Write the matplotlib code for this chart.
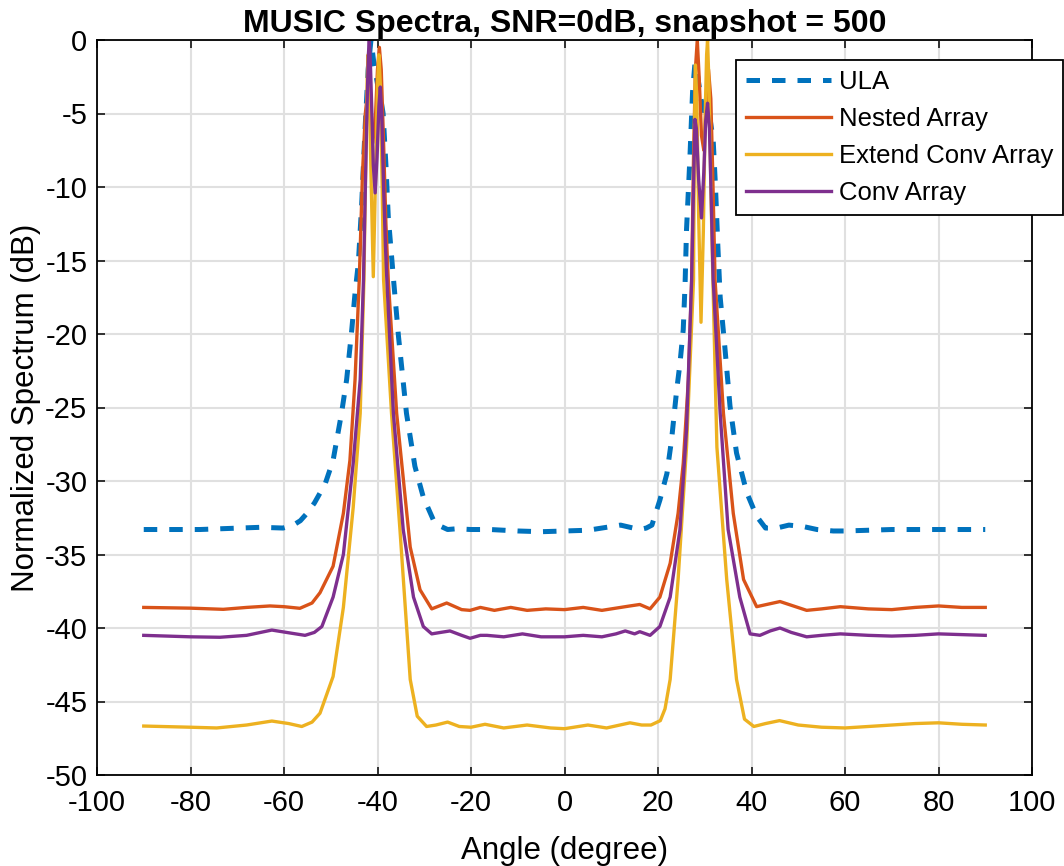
import matplotlib
matplotlib.use("Agg")
import matplotlib.pyplot as plt

plt.rcParams['font.family'] = ['Liberation Sans', 'DejaVu Sans']
plt.rcParams['axes.unicode_minus'] = False

title = "MUSIC Spectra, SNR=0dB, snapshot = 500"
xlabel = "Angle (degree)"
ylabel = "Normalized Spectrum (dB)"
labels = ["ULA", "Nested Array", "Extend Conv Array", "Conv Array"]
xticks = [-100, -80, -60, -40, -20, 0, 20, 40, 60, 80, 100]
yticks = [0, -5, -10, -15, -20, -25, -30, -35, -40, -45, -50]

ula_x = [-90, -78, -65, -60.2, -58, -56.5, -55.1, -53.5, -51.2, -49.5, -47.7, -46.6, -45.5, -44.8,
         -44.1, -43.4, -42.7, -42.0, -41.4, -40.8, -40.0, -39.3, -38.8, -38.2, -37.7, -36.6, -35.5,
         -33.8, -32.0, -30.2, -27.7, -25, -23.1, -20, -15.9, -10, -5, 0, 5, 8, 10, 12, 14, 16.1,
         17.5, 18.7, 20.4, 21.9, 22.9, 24.0, 24.7, 25.4, 25.8, 26.1, 26.8, 27.4, 27.9, 28.5, 29.2,
         29.7, 30.5, 31.2, 31.8, 32.3, 32.8, 33.3, 34.3, 35.4, 36.8, 39.0, 41.1, 43, 45.4, 48, 51.1,
         54, 57.5, 60, 65, 70, 80, 90]
ula_y = [-33.3, -33.3, -33.15, -33.2, -33.0, -32.7, -32.2, -31.5, -30.2, -28.6, -25.4, -23.1, -19.7, -17.2,
         -15.2, -11.3, -6.3, -2.0, 0.0, -1.5, -3.0, -4.0, -5.0, -8.5, -12.0, -16.2, -20.2,
         -25.4, -29.0, -31.1, -32.9, -33.3, -33.25, -33.3, -33.3, -33.4, -33.45, -33.4, -33.35, -33.2, -33.1, -33.0, -33.15, -33.3,
         -33.2, -33.0, -31.3, -29.5, -27.2, -23.8, -22.0, -19.7, -16.5, -12.9, -8.2, -3.5, -1.6, -2.5, -4.0,
         -4.8, -4.6, -5.5, -6.8, -10.0, -14.0, -17.5, -20.9, -24.9, -28.1, -30.8, -32.4, -33.2, -33.2, -33.0, -33.1,
         -33.3, -33.4, -33.4, -33.35, -33.3, -33.3, -33.3]

nested_x = [-90, -80, -73, -68, -63, -60, -56.6, -54, -52.3, -49.5, -47.3, -45.9, -44.8, -43.9, -43.2,
            -42.6, -42.1, -41.6, -41.0, -40.4, -40.0, -39.6, -39.2, -38.7, -38.2, -37.7, -35.9, -33.0,
            -30.9, -28.4, -25.2, -22, -20.2, -18, -15, -11.5, -8, -4, 0, 4, 8, 12, 14, 16.1, 18.3, 20.4,
            22.6, 24.3, 25.4, 26.5, 27.2, 27.6, 28.0, 28.4, 28.8, 29.3, 29.8, 30.3, 30.8, 31.3, 31.7, 32.2,
            34.0, 36.1, 38.3, 41.1, 46.1, 51.8, 55, 59, 65, 70, 75, 80, 85, 90]
nested_y = [-38.6, -38.65, -38.73, -38.6, -38.5, -38.55, -38.66, -38.3, -37.6, -35.8, -32.2, -28.6, -23.1, -16.3, -9.0,
            -5.0, -3.5, -5.0, -7.0, -5.0, -2.0, -0.5, -2.0, -7.0, -12.5, -16.3, -25.4, -34.5,
            -37.4, -38.7, -38.3, -38.75, -38.8, -38.6, -38.8, -38.6, -38.8, -38.7, -38.75, -38.6, -38.8, -38.6, -38.5, -38.4, -38.7, -37.9,
            -35.6, -32.2, -28.8, -23.1, -16.3, -8.0, -2.0, 0.0, -2.5, -6.5, -7.5, -4.5, -2.0, -4.0, -9.0, -16.3,
            -25.4, -32.2, -36.7, -38.55, -38.2, -38.8, -38.7, -38.55, -38.7, -38.75, -38.6, -38.5, -38.6, -38.6]

extend_x = [-90, -80, -74.4, -68, -62.6, -59, -56.2, -54, -52.3, -49.5, -47.3, -45.2, -43.7, -42.9, -42.5,
            -42.2, -42.0, -41.8, -41.4, -40.9, -40.4, -40.0, -39.7, -39.4, -39.0, -38.7, -37.0, -35.2,
            -33.0, -31.5, -29.5, -27.5, -25, -22.5, -20, -17, -13, -8, -3, 0, 5, 9, 14, 16.5, 18.5, 20.5,
            21.5, 22.6, 24.3, 26.1, 27.6, 27.8, 28.0, 28.3, 28.7, 29.2, 29.7, 30.1, 30.4, 30.6, 30.9, 31.2,
            31.5, 31.8, 32.6, 34.7, 36.8, 38.5, 40.5, 43, 46, 50, 55, 60, 65, 70, 75, 80, 85, 90]
extend_y = [-46.67, -46.75, -46.8, -46.6, -46.33, -46.5, -46.7, -46.4, -45.8, -43.3, -38.6, -31.8, -25.4, -16.3, -8.0,
            -2.5, -1.0, -2.5, -9.0, -16.1, -9.0, -3.0, -1.0, -3.0, -10.0, -16.3, -25.4, -33.3,
            -43.5, -46.0, -46.7, -46.6, -46.4, -46.7, -46.75, -46.55, -46.8, -46.6, -46.8, -46.85, -46.6, -46.8, -46.45, -46.6, -46.6, -46.3,
            -45.5, -43.5, -36.7, -27.7, -16.3, -6.0, -1.7, -4.0, -12.0, -19.2, -13.0, -5.0, -1.0, 0.0, -3.0, -8.0,
            -13.0, -17.0, -27.7, -36.7, -43.5, -46.2, -46.7, -46.5, -46.3, -46.6, -46.75, -46.8, -46.7, -46.6, -46.5, -46.45, -46.55, -46.6]

conv_x = [-90, -80, -73.7, -68, -62.6, -58.5, -55.5, -53.5, -51.9, -49.5, -47.3, -45.2, -43.7, -43.0, -42.6,
          -42.2, -41.95, -41.75, -41.5, -41.2, -40.9, -40.5, -40.1, -39.7, -39.4, -39.1, -38.7, -38.3, -38.0,
          -36.6, -34.5, -32.3, -30.2, -28.4, -26.5, -24.5, -22, -20.2, -18, -16.6, -13, -9, -5, 0, 4, 8,
          11, 13, 15, 16.1, 18.3, 20.4, 22.6, 24.7, 26.1, 27.2, 27.6, 27.9, 28.2, 28.7, 29.3, 29.8, 30.2,
          30.6, 31.0, 31.4, 31.8, 33.3, 35.0, 37.5, 39.7, 41.8, 44, 46.1, 48.5, 51.8, 55, 59, 65, 70, 75,
          80, 85, 90]
conv_y = [-40.5, -40.6, -40.63, -40.5, -40.14, -40.35, -40.5, -40.3, -39.9, -37.9, -35.0, -28.8, -23.1, -16.3, -10.0,
          -4.0, -1.0, 0.0, -1.8, -5.0, -8.5, -10.4, -8.0, -4.5, -3.2, -5.0, -10.0, -14.0, -16.3,
          -25.4, -33.3, -37.9, -39.9, -40.4, -40.3, -40.2, -40.5, -40.7, -40.5, -40.5, -40.6, -40.4, -40.6, -40.6, -40.5, -40.6,
          -40.4, -40.2, -40.4, -40.25, -40.5, -39.9, -37.9, -33.3, -26.5, -16.3, -10.0, -5.4, -6.0, -9.5, -12.1, -9.0, -5.5,
          -4.3, -6.0, -11.0, -16.3, -25.4, -33.3, -37.9, -40.4, -40.5, -40.2, -40.0, -40.3, -40.6, -40.5, -40.4, -40.5, -40.55, -40.5,
          -40.4, -40.45, -40.5]

colors = ["#0072BD", "#D95319", "#EDB120", "#7E2F8E"]

W, H = 1064, 866
fig = plt.figure(figsize=(W / 100, H / 100), dpi=100)
ax = fig.add_axes([97 / W, 1 - 775 / H, (1032 - 97) / W, (775 - 40) / H])

ax.plot(ula_x, ula_y, color=colors[0], lw=3.6, linestyle=(0, (2.7, 2.4)), label=labels[0])
ax.plot(nested_x, nested_y, color=colors[1], lw=2.4, label=labels[1], solid_joinstyle='round')
ax.plot(extend_x, extend_y, color=colors[2], lw=2.4, label=labels[2], solid_joinstyle='round')
ax.plot(conv_x, conv_y, color=colors[3], lw=2.4, label=labels[3], solid_joinstyle='round')

ax.set_xlim(-100, 100)
ax.set_ylim(-50, 0)
ax.set_xticks(xticks)
ax.set_xticklabels([str(v) for v in xticks])
ax.set_yticks(yticks)
ax.set_yticklabels([str(v) for v in yticks])
ax.grid(True, color="#E0E0E0", lw=1.5)
ax.set_axisbelow(True)
ax.tick_params(direction='in', length=6, width=1.1, labelsize=21, pad=7,
               top=True, right=True)
ax.tick_params(axis='x', pad=10)
for s in ax.spines.values():
    s.set_linewidth(1.3)
    s.set_color("black")

ax.set_title(title, fontsize=23, fontweight='bold', pad=6)
ax.set_xlabel(xlabel, fontsize=22.5, labelpad=14)
ax.set_ylabel(ylabel, fontsize=22.5, labelpad=3)

leg = ax.legend(loc='upper left', bbox_to_anchor=(736 / W, 1 - 60 / H),
                bbox_transform=fig.transFigure, borderaxespad=0, fontsize=18.5,
                frameon=True, fancybox=False, framealpha=1, edgecolor='black',
                handlelength=3.3, handletextpad=0.3, labelspacing=0.5,
                borderpad=0.4)
leg.get_frame().set_linewidth(1.3)

fig.savefig("out.png", dpi=100)
